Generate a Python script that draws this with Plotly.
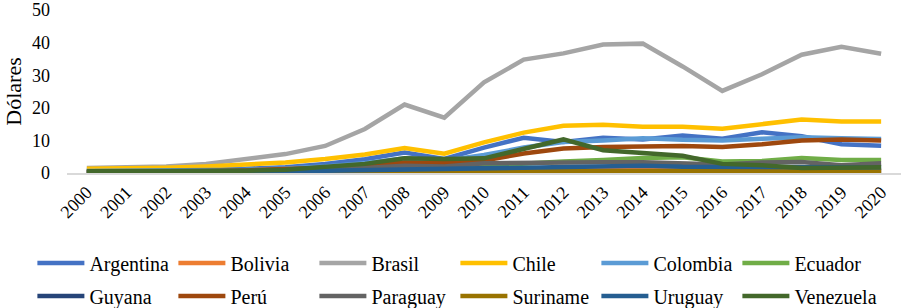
import plotly.graph_objects as go

years = [str(y) for y in range(2000, 2021)]

argentina = [0.8, 0.9, 0.9, 1.0, 1.3, 1.8, 2.8, 4.2, 6.3, 4.3, 7.8, 10.8, 9.5, 10.8, 10.3, 11.5, 10.5, 12.5, 11.3, 8.8, 8.4]
bolivia   = [0.2, 0.2, 0.2, 0.2, 0.3, 0.3, 0.4, 0.5, 0.6, 0.6, 0.7, 0.8, 0.9, 1.0, 1.0, 0.9, 0.8, 0.9, 0.9, 0.9, 0.8]
brasil    = [1.5, 1.6, 2.0, 2.8, 4.2, 5.8, 8.3, 13.5, 21.0, 17.0, 27.8, 34.8, 36.7, 39.4, 39.7, 32.7, 25.2, 30.3, 36.3, 38.7, 36.6]
chile     = [1.3, 1.4, 1.6, 2.0, 2.5, 3.2, 4.3, 5.7, 7.7, 5.9, 9.4, 12.4, 14.5, 14.8, 14.2, 14.2, 13.6, 15.0, 16.4, 15.8, 15.8]
colombia  = [0.6, 0.7, 0.7, 0.8, 1.0, 1.4, 2.0, 3.0, 4.5, 3.8, 5.5, 7.8, 9.5, 10.0, 10.7, 10.2, 10.0, 10.5, 11.0, 10.7, 10.4]
ecuador   = [0.3, 0.3, 0.4, 0.5, 0.6, 0.8, 1.0, 1.4, 1.8, 1.6, 2.2, 3.0, 3.5, 4.0, 4.6, 4.8, 3.5, 3.7, 4.6, 4.0, 4.0]
guyana    = [0.1, 0.1, 0.1, 0.1, 0.1, 0.1, 0.2, 0.2, 0.2, 0.2, 0.3, 0.3, 0.4, 0.4, 0.4, 0.4, 0.4, 0.4, 0.4, 0.4, 0.5]
peru      = [0.4, 0.4, 0.5, 0.6, 0.8, 1.1, 1.6, 2.3, 3.2, 3.0, 3.8, 6.0, 7.5, 8.0, 8.3, 8.3, 8.0, 8.8, 10.0, 10.3, 10.0]
paraguay  = [0.3, 0.3, 0.3, 0.4, 0.6, 0.8, 1.1, 1.5, 2.2, 2.0, 3.0, 3.2, 3.3, 3.3, 3.3, 3.0, 2.6, 3.2, 3.4, 2.4, 3.0]
suriname  = [0.1, 0.1, 0.1, 0.1, 0.2, 0.2, 0.2, 0.3, 0.3, 0.3, 0.4, 0.5, 0.5, 0.6, 0.6, 0.5, 0.4, 0.4, 0.5, 0.5, 0.5]
uruguay   = [0.3, 0.3, 0.3, 0.3, 0.4, 0.5, 0.7, 0.9, 1.3, 1.2, 1.6, 1.8, 2.0, 2.1, 2.2, 1.9, 1.8, 1.9, 1.8, 1.8, 1.8]
venezuela = [0.5, 0.5, 0.5, 0.5, 0.7, 1.0, 1.8, 2.8, 4.5, 4.3, 4.5, 7.3, 10.3, 7.0, 6.0, 5.3, 2.8, 2.4, 1.5, 1.5, 1.8]

names = ["Argentina", "Bolivia", "Brasil", "Chile", "Colombia", "Ecuador",
         "Guyana", "Perú", "Paraguay", "Suriname", "Uruguay", "Venezuela"]
series = [argentina, bolivia, brasil, chile, colombia, ecuador,
          guyana, peru, paraguay, suriname, uruguay, venezuela]
colors = ["#4472C4", "#ED7D31", "#A5A5A5", "#FFC000", "#5B9BD5", "#70AD47",
          "#264478", "#9E480E", "#636363", "#997300", "#255E91", "#43682B"]

FONT = "Times New Roman, Liberation Serif, serif"

fig = go.Figure()
for i, (n, s, c) in enumerate(zip(names, series, colors)):
    fig.add_trace(go.Scatter(
        x=years, y=s, name=n, mode="lines",
        line=dict(color=c, width=4.5),
        legend="legend" if i < 6 else "legend2",
    ))

leg_common = dict(
    orientation="h", xanchor="left", yanchor="middle",
    entrywidth=79, entrywidthmode="pixels", itemwidth=47,
    font=dict(family=FONT, size=20, color="black"),
    bgcolor="rgba(0,0,0,0)",
    tracegroupgap=0,
)

PLOT_H = 308 - 10 - 135

fig.update_layout(
    width=902, height=308,
    margin=dict(l=67, r=1, t=10, b=135, autoexpand=False),
    paper_bgcolor="white", plot_bgcolor="white",
    font=dict(family=FONT, size=18, color="black"),
    showlegend=True,
    legend=dict(x=-0.0415, y=(173 - 263) / PLOT_H, **leg_common),
    legend2=dict(x=-0.0415, y=(173 - 296) / PLOT_H, **leg_common),
    xaxis=dict(
        type="category", range=[-0.5, 20.5],
        showline=True, linecolor="#D9D9D9", linewidth=1.5,
        showgrid=False, ticks="", tickangle=-45,
        tickfont=dict(family=FONT, size=18, color="black"),
        zeroline=False,
    ),
    yaxis=dict(
        range=[0, 50.02], tickvals=[0, 10, 20, 30, 40, 50],
        showline=False, showgrid=False, zeroline=False, ticks="",
        ticklabelstandoff=16, ticklabeloverflow="allow",
        tickfont=dict(family=FONT, size=18, color="black"),
        title=dict(text="Dólares", font=dict(family=FONT, size=22, color="black"), standoff=4),
    ),
)

fig.write_html("out.html", config={"displayModeBar": False},
               post_script="document.body.style.margin='0px';")
